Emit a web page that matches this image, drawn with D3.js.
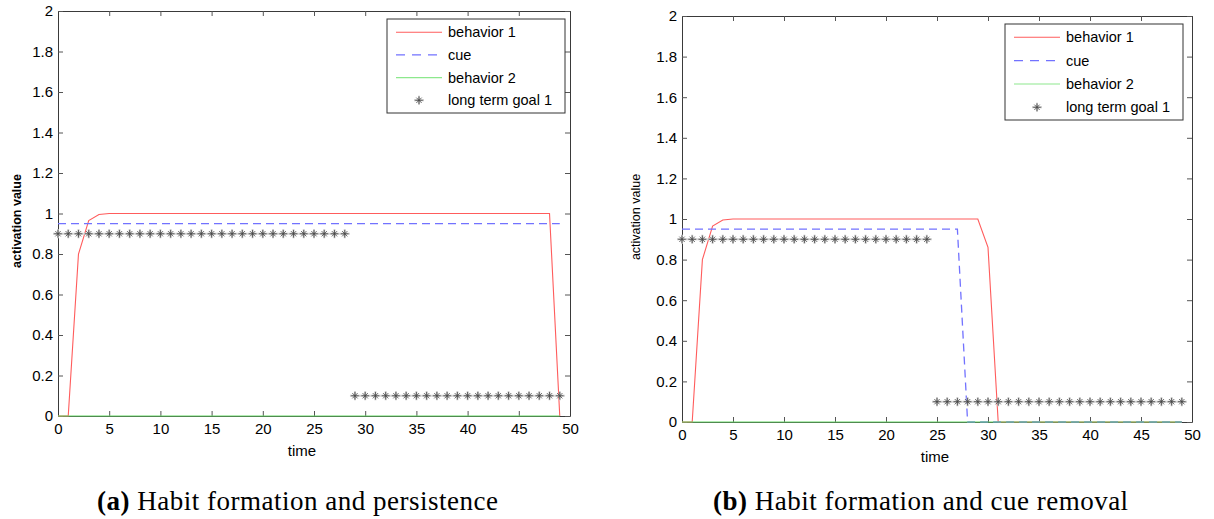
<!DOCTYPE html>
<html>
<head>
<meta charset="utf-8">
<script src="https://cdn.jsdelivr.net/npm/d3@7"></script>
<style>
  body { margin: 0; background: #fff; }
  svg { display: block; }
  .tick text { font-family: "Liberation Sans", Arial, sans-serif; font-size: 15px; fill: #000; }
</style>
</head>
<body>
<script>
// DATA
var time = [0,1,2,3,4,5,6,7,8,9,10,11,12,13,14,15,16,17,18,19,20,21,22,23,24,
            25,26,27,28,29,30,31,32,33,34,35,36,37,38,39,40,41,42,43,44,45,46,47,48,49];
var xTicks = [0,5,10,15,20,25,30,35,40,45,50];
var yTicks = [0,0.2,0.4,0.6,0.8,1,1.2,1.4,1.6,1.8,2];
var yTickLabels = ["0","0.2","0.4","0.6","0.8","1","1.2","1.4","1.6","1.8","2"];
var seriesNames = ["behavior 1","cue","behavior 2","long term goal 1"];

// panel (a): habit formation and persistence
var behavior1A = [0,0,0.8,0.965,0.995,1,1,1,1,1,1,1,1,1,1,1,1,1,1,1,1,1,1,1,1,
                  1,1,1,1,1,1,1,1,1,1,1,1,1,1,1,1,1,1,1,1,1,1,1,1,0];
var cueA = [0.95,0.95,0.95,0.95,0.95,0.95,0.95,0.95,0.95,0.95,0.95,0.95,0.95,0.95,0.95,0.95,0.95,0.95,0.95,0.95,0.95,0.95,0.95,0.95,0.95,
            0.95,0.95,0.95,0.95,0.95,0.95,0.95,0.95,0.95,0.95,0.95,0.95,0.95,0.95,0.95,0.95,0.95,0.95,0.95,0.95,0.95,0.95,0.95,0.95,0.95];
var behavior2A = [0,0,0,0,0,0,0,0,0,0,0,0,0,0,0,0,0,0,0,0,0,0,0,0,0,
                  0,0,0,0,0,0,0,0,0,0,0,0,0,0,0,0,0,0,0,0,0,0,0,0,0];
var goalA = [0.9,0.9,0.9,0.9,0.9,0.9,0.9,0.9,0.9,0.9,0.9,0.9,0.9,0.9,0.9,0.9,0.9,0.9,0.9,0.9,0.9,0.9,0.9,0.9,0.9,
             0.9,0.9,0.9,0.9,0.1,0.1,0.1,0.1,0.1,0.1,0.1,0.1,0.1,0.1,0.1,0.1,0.1,0.1,0.1,0.1,0.1,0.1,0.1,0.1,0.1];

// panel (b): habit formation and cue removal
var behavior1B = [0,0,0.8,0.965,0.995,1,1,1,1,1,1,1,1,1,1,1,1,1,1,1,1,1,1,1,1,
                  1,1,1,1,1,0.86,0,0,0,0,0,0,0,0,0,0,0,0,0,0,0,0,0,0,0];
var cueB = [0.95,0.95,0.95,0.95,0.95,0.95,0.95,0.95,0.95,0.95,0.95,0.95,0.95,0.95,0.95,0.95,0.95,0.95,0.95,0.95,0.95,0.95,0.95,0.95,0.95,
            0.95,0.95,0.95,0,0,0,0,0,0,0,0,0,0,0,0,0,0,0,0,0,0,0,0,0,0];
var behavior2B = [0,0,0,0,0,0,0,0,0,0,0,0,0,0,0,0,0,0,0,0,0,0,0,0,0,
                  0,0,0,0,0,0,0,0,0,0,0,0,0,0,0,0,0,0,0,0,0,0,0,0,0];
var goalB = [0.9,0.9,0.9,0.9,0.9,0.9,0.9,0.9,0.9,0.9,0.9,0.9,0.9,0.9,0.9,0.9,0.9,0.9,0.9,0.9,0.9,0.9,0.9,0.9,0.9,
             0.1,0.1,0.1,0.1,0.1,0.1,0.1,0.1,0.1,0.1,0.1,0.1,0.1,0.1,0.1,0.1,0.1,0.1,0.1,0.1,0.1,0.1,0.1,0.1,0.1];

var captionLabels = ["(a)", "(b)"];
var captionTexts = [" Habit formation and persistence", " Habit formation and cue removal"];

// LAYOUT
var svg = d3.select("body").append("svg")
    .attr("width", 1214)
    .attr("height", 519);

var colors = { b1: "#ff5c5c", cue: "#7272ff", b2: "#66d966", star: "#444" };
var sansFont = "'Liberation Sans', Arial, sans-serif";

var panels = [
    { left: 58, right: 570, top: 11, bottom: 416,
      b1: behavior1A, cue: cueA, b2: behavior2A, goal: goalA,
      legend: { x: 387, y: 19, w: 178, h: 94 },
      ylab: { x: 21, y: 221, weight: "bold" }, xlab: { x: 302, y: 456 },
      cap: { x: 97, y: 510 } },
    { left: 682, right: 1192, top: 16, bottom: 422,
      b1: behavior1B, cue: cueB, b2: behavior2B, goal: goalB,
      legend: { x: 1005, y: 24, w: 178, h: 96 },
      ylab: { x: 640, y: 217, weight: "normal" }, xlab: { x: 935, y: 462 },
      cap: { x: 713, y: 510 } }
];

// asterisk marker like matlab '*'
function starPath(r) {
    var d = r * 0.7;
    return "M" + (-r) + ",0L" + r + ",0M0," + (-r) + "L0," + r +
           "M" + (-d) + "," + (-d) + "L" + d + "," + d +
           "M" + (-d) + "," + d + "L" + d + "," + (-d);
}

function drawStars(g, pts) {
    g.selectAll(".halo").data(pts).enter().append("path")
        .attr("class", "halo")
        .attr("transform", d => "translate(" + d[0] + "," + d[1] + ")")
        .attr("d", "M-5,0L5,0M0,-4.5L0,4.5")
        .attr("fill", "none")
        .attr("stroke", "#c8c8c8")
        .attr("stroke-width", 2);
    g.selectAll(".star").data(pts).enter().append("path")
        .attr("class", "star")
        .attr("transform", d => "translate(" + d[0] + "," + d[1] + ")")
        .attr("d", starPath(3.8))
        .attr("fill", "none")
        .attr("stroke", colors.star)
        .attr("stroke-width", 0.8);
}

panels.forEach(function (p, pi) {
    var g = svg.append("g");

    var xScale = d3.scaleLinear().domain([0, 50]).range([p.left, p.right]);
    var yScale = d3.scaleLinear().domain([0, 2]).range([p.bottom, p.top]);

    // axes (ticks pointing inward, box all round)
    var axisCalls = [
        [d3.axisBottom(xScale).tickValues(xTicks).tickSizeInner(-5).tickSizeOuter(0).tickPadding(7), "translate(0," + p.bottom + ")"],
        [d3.axisTop(xScale).tickValues(xTicks).tickSizeInner(-5).tickSizeOuter(0).tickFormat(""), "translate(0," + p.top + ")"],
        [d3.axisLeft(yScale).tickValues(yTicks).tickSizeInner(-5).tickSizeOuter(0).tickPadding(5)
            .tickFormat((d, i) => yTickLabels[i]), "translate(" + p.left + ",0)"],
        [d3.axisRight(yScale).tickValues(yTicks).tickSizeInner(-5).tickSizeOuter(0).tickFormat(""), "translate(" + p.right + ",0)"]
    ];
    axisCalls.forEach(function (a) {
        var ax = g.append("g").attr("transform", a[1]).call(a[0]);
        ax.select(".domain").attr("stroke", "#3a3a3a");
        ax.selectAll(".tick line").attr("stroke", "#555");
    });

    // axis labels
    g.append("text")
        .attr("x", p.xlab.x)
        .attr("y", p.xlab.y)
        .attr("text-anchor", "middle")
        .style("font-family", sansFont)
        .style("font-size", "15px")
        .text("time");

    g.append("text")
        .attr("transform", "translate(" + p.ylab.x + "," + p.ylab.y + ") rotate(-90)")
        .attr("text-anchor", "middle")
        .style("font-family", sansFont)
        .style("font-size", "12.5px")
        .style("font-weight", p.ylab.weight)
        .text("activation value");

    // series
    var line = d3.line()
        .x((d, i) => xScale(time[i]))
        .y(d => yScale(d));

    g.append("path").datum(p.b1)
        .attr("d", line)
        .attr("fill", "none")
        .attr("stroke", colors.b1)
        .attr("stroke-width", 1.1);

    g.append("path").datum(p.cue)
        .attr("d", line)
        .attr("fill", "none")
        .attr("stroke", colors.cue)
        .attr("stroke-width", 1.3)
        .attr("stroke-dasharray", "8,5");

    g.append("path").datum(p.b2)
        .attr("d", line)
        .attr("fill", "none")
        .attr("stroke", colors.b2)
        .attr("stroke-width", 1.1);

    drawStars(g.append("g"), p.goal.map((v, i) => [xScale(time[i]), yScale(v)]));

    // legend
    var L = p.legend;
    var lg = g.append("g").attr("transform", "translate(" + L.x + "," + L.y + ")");
    lg.append("rect")
        .attr("width", L.w)
        .attr("height", L.h)
        .attr("fill", "#fff")
        .attr("stroke", "#333")
        .attr("stroke-width", 1);

    var rowStep = (L.h - 26) / 3;
    seriesNames.forEach(function (name, i) {
        var ry = 13.3 + i * rowStep;
        if (i < 3) {
            lg.append("line")
                .attr("x1", 9).attr("x2", 55)
                .attr("y1", ry).attr("y2", ry)
                .attr("stroke", [colors.b1, colors.cue, "#8de88d"][i])
                .attr("stroke-width", i === 1 ? 1.3 : 1.1)
                .attr("stroke-dasharray", i === 1 ? "9,7" : null);
        } else {
            drawStars(lg.append("g"), [[32, ry]]);
        }
        lg.append("text")
            .attr("x", 61)
            .attr("y", ry)
            .attr("dy", "0.35em")
            .style("font-family", sansFont)
            .style("font-size", "14.5px")
            .text(name);
    });

    // caption
    var cap = svg.append("text")
        .attr("x", p.cap.x)
        .attr("y", p.cap.y)
        .style("font-family", "'Liberation Serif', 'Times New Roman', serif")
        .style("font-size", "27px")
        .style("letter-spacing", "0.5px");
    cap.append("tspan").style("font-weight", "bold").text(captionLabels[pi]);
    cap.append("tspan").text(captionTexts[pi]);
});
</script>
</body>
</html>
